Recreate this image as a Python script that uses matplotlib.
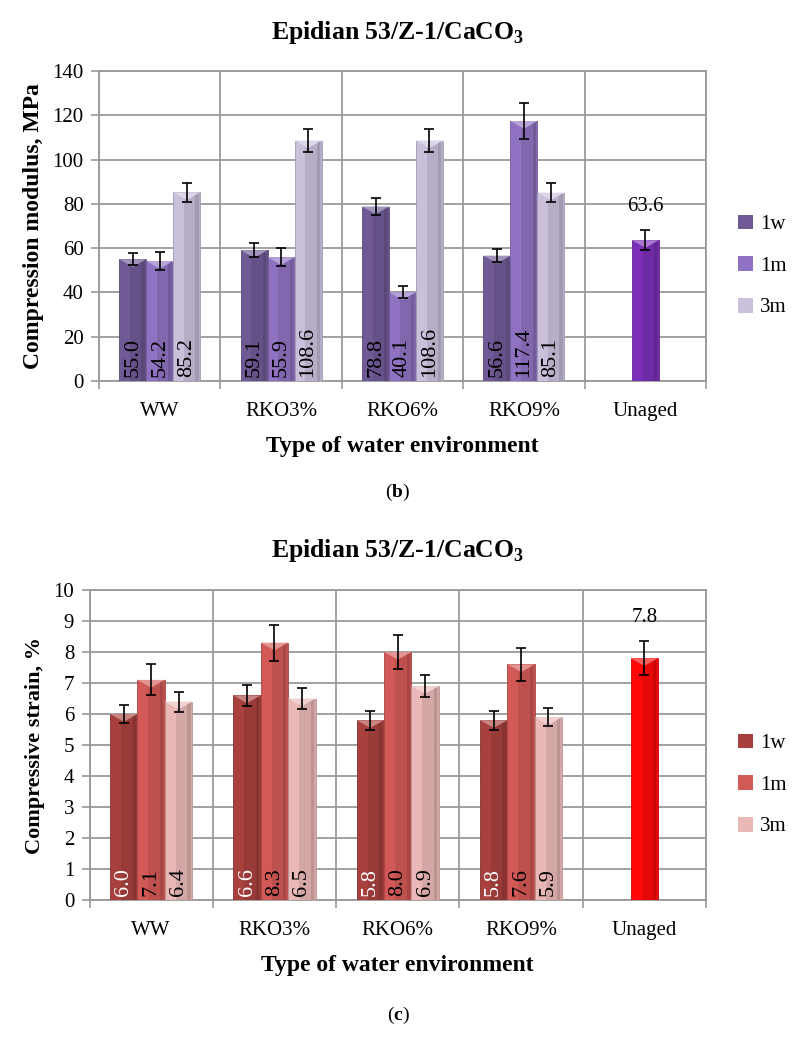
import matplotlib
matplotlib.use('Agg')
import matplotlib.pyplot as plt
from matplotlib.patches import Polygon
import numpy as np

plt.rcParams['font.family'] = ['Liberation Serif', 'DejaVu Serif']
plt.rcParams['mathtext.fontset'] = 'custom'
plt.rcParams['mathtext.rm'] = 'Liberation Serif'
plt.rcParams['mathtext.bf'] = 'Liberation Serif:bold'

# data
categories = ['WW', 'RKO3%', 'RKO6%', 'RKO9%', 'Unaged']
series = ['1w', '1m', '3m']

modulus = {'1w': [55.0, 59.1, 78.8, 56.6],
           '1m': [54.2, 55.9, 40.1, 117.4],
           '3m': [85.2, 108.6, 108.6, 85.1]}
modulus_err = {'1w': [2.8, 3.1, 3.9, 2.9],
               '1m': [4.0, 4.0, 2.8, 8.2],
               '3m': [4.4, 5.4, 5.4, 4.2]}
modulus_unaged = 63.6
modulus_unaged_err = 4.5

strain = {'1w': [6.0, 6.6, 5.8, 5.8],
          '1m': [7.1, 8.3, 8.0, 7.6],
          '3m': [6.4, 6.5, 6.9, 5.9]}
strain_err = {'1w': [0.3, 0.33, 0.3, 0.3],
              '1m': [0.5, 0.58, 0.56, 0.54],
              '3m': [0.32, 0.33, 0.35, 0.3]}
strain_unaged = 7.8
strain_unaged_err = 0.55

purple = {'1w': '#6f5a96', '1m': '#8f72c1', '3m': '#cac0dc', 'unaged': '#7b2fb8'}
red = {'1w': '#a8403e', '1m': '#d35957', '3m': '#eab9b7', 'unaged': '#ff0808'}
label_col_b = {'1w': 'black', '1m': 'black', '3m': 'black'}
label_col_c = {'1w': 'white', '1m': 'black', '3m': 'black'}

fig = plt.figure(figsize=(7.96, 10.41), dpi=100)
W, H = 796.0, 1041.0
GRID = '#9a9a9a'


def shade(c, f):
    rgb = np.array(matplotlib.colors.to_rgb(c))
    return tuple(np.clip(rgb * f, 0, 1))


def tint(c, f):
    rgb = np.array(matplotlib.colors.to_rgb(c))
    return tuple(rgb + (1 - rgb) * f)


def fancy_bar(ax, x, h, w, col, ymax):
    ax.bar(x, h, w, color=col, edgecolor=shade(col, 0.8), linewidth=0.6, zorder=3)
    # darker right side for the 3d look
    ax.bar(x + w * 0.2, h, w * 0.6, color=shade(col, 0.9), linewidth=0, zorder=3)
    ax.bar(x + w * 0.38, h, w * 0.12, color=shade(col, 0.8), linewidth=0, zorder=3)
    dh = ymax * 0.025
    tri = Polygon([[x - w / 2, h], [x + w / 2, h], [x, h - dh]], closed=True,
                  facecolor=tint(col, 0.35), edgecolor='none', zorder=4)
    ax.add_patch(tri)


def panel(rect, vals, errs, uval, uerr, cols, lab_cols, ymax, ystep, ylabel,
          ylabel_size, title_y, legend_y, fmt):
    ax = fig.add_axes(rect)
    w = 0.222
    x = np.arange(4)
    for i, s in enumerate(series):
        xs = x + (i - 1) * w
        for j in range(4):
            fancy_bar(ax, xs[j], vals[s][j], w, cols[s], ymax)
            ax.text(xs[j], ymax * 0.012, fmt % vals[s][j], rotation=90,
                    ha='center', va='bottom', fontsize=16, color=lab_cols[s],
                    zorder=6)
        ax.errorbar(xs, vals[s], yerr=errs[s], fmt='none', ecolor='black',
                    elinewidth=1.2, capsize=3.6, capthick=1.2, zorder=5)
        ax.bar(0, 0, 0, color=cols[s], label=s)
    fancy_bar(ax, 4, uval, w, cols['unaged'], ymax)
    ax.errorbar([4], [uval], yerr=[uerr], fmt='none', ecolor='black',
                elinewidth=1.2, capsize=3.6, capthick=1.2, zorder=5)
    ax.text(4, uval + uerr + ymax * 0.045, fmt % uval, ha='center', va='bottom',
            fontsize=15)

    ax.set_xlim(-0.5, 4.5)
    ax.set_ylim(0, ymax)
    ax.set_yticks(np.arange(0, ymax + ystep / 2, ystep))
    ax.set_xticks(np.arange(5))
    ax.set_xticklabels(categories, fontsize=15)
    ax.set_xticks(np.arange(-0.5, 5.0, 1.0), minor=True)
    ax.tick_params(axis='x', which='major', length=0, pad=15)
    ax.tick_params(axis='x', which='minor', length=6, color=GRID, width=1.2)
    ax.tick_params(axis='y', length=6, color=GRID, width=1.2, labelsize=15, pad=5)
    ax.grid(axis='y', which='major', color=GRID, linewidth=1.3, zorder=0)
    ax.grid(axis='x', which='minor', color=GRID, linewidth=1.3, zorder=0)
    ax.set_axisbelow(True)
    for sp in ax.spines.values():
        sp.set_color(GRID)
        sp.set_linewidth(1.3)
    ax.set_ylabel(ylabel, fontsize=ylabel_size, fontweight='bold', labelpad=6)
    ax.set_xlabel('Type of water environment', fontsize=17, fontweight='bold',
                  labelpad=11)
    ax.legend(loc='center left', bbox_to_anchor=(738 / W, 1 - legend_y / H),
              bbox_transform=fig.transFigure, frameon=False, borderpad=0,
              borderaxespad=0, fontsize=15, handlelength=0.72, handleheight=0.72,
              labelspacing=1.05, handletextpad=0.35)
    fig.text(0.5, 1 - title_y / H, r'Epidian 53/Z-1/CaCO$_\mathbf{3}$',
             ha='center', va='center', fontsize=18.5, fontweight='bold')
    return ax


panel([99 / W, 1 - 381 / H, 607 / W, 310 / H], modulus, modulus_err,
      modulus_unaged, modulus_unaged_err, purple, label_col_b, 140, 20,
      'Compression modulus, MPa', 17, 33, 266, '%.1f')
panel([89.5 / W, 1 - 900 / H, 616.5 / W, 310 / H], strain, strain_err,
      strain_unaged, strain_unaged_err, red, label_col_c, 10, 1,
      'Compressive strain, %', 16, 550, 785, '%.1f')

fig.text(0.5, 1 - 492 / H, r'($\mathbf{b}$)', ha='center', va='center', fontsize=14)
fig.text(0.5, 1 - 1015 / H, r'($\mathbf{c}$)', ha='center', va='center', fontsize=14)

fig.savefig('out.png', dpi=100)
